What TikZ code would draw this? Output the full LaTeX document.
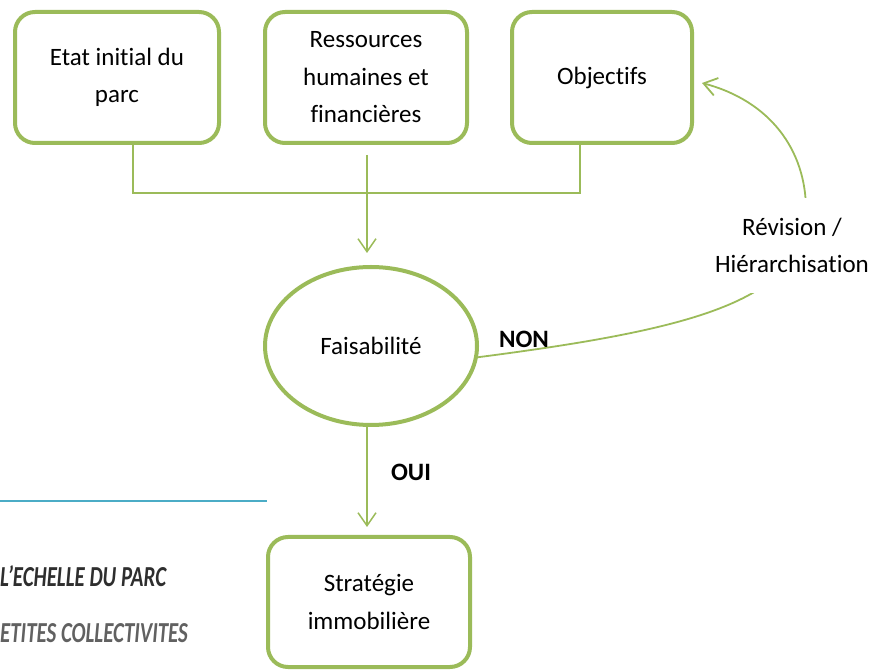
\documentclass[tikz,border=0pt]{standalone}
\usepackage{fontspec}
\setmainfont{Carlito}[Ligatures=NoCommon]
\newfontfamily\bandeau[FakeStretch=0.72,Ligatures=NoCommon]{Carlito}
\usetikzlibrary{shapes.geometric,arrows.meta}
\definecolor{vert}{HTML}{9BBB59}
\definecolor{bleu}{HTML}{4BACC6}
\begin{document}
\begin{tikzpicture}[x=1pt,y=1pt,>={Straight Barb[length=13pt,width=18pt]}]
        \tikzstyle{etape}=[rectangle,rounded corners=20pt,draw=vert,line width=4pt,align=center,inner sep=0pt,minimum height=131pt,font=\fontsize{25}{37.5}\selectfont]
        \tikzstyle{decision}=[ellipse,draw=vert,line width=4pt,minimum width=212pt,minimum height=158pt,inner sep=0pt,font=\fontsize{25}{37.5}\selectfont]
        \tikzstyle{lien}=[draw=vert,line width=1.5pt]
        \tikzstyle{texte}=[align=center,font=\fontsize{25}{37.5}\selectfont]
        \tikzstyle{reponse}=[font=\fontsize{25}{30}\selectfont\bfseries]
        \tikzstyle{bandeau}=[anchor=west,inner sep=0pt,font=\fontsize{29}{32}\bandeau\bfseries\itshape]
        \useasboundingbox (0,0) rectangle (877,669);
       \begin{scope}
         \node [etape,minimum width=204pt] (etat) at (117,591.5) {Etat initial du\\parc};
         \node [etape,minimum width=202pt] (ressources) at (366,591.5) {Ressources\\humaines et\\financières};
         \node [etape,minimum width=180pt] (objectifs) at (602,591.5) {Objectifs};
         \node [decision] (faisab) at (371,323) {Faisabilité};
         \node [etape,minimum width=202pt,minimum height=130pt] (strategie) at (369,67) {Stratégie\\immobilière};
         \coordinate (jonc) at (367,476);

         \path[lien] ([xshift=16pt]etat.south) |- (jonc) -| ([xshift=-22pt]objectifs.south);
         \path[lien,->,shorten <=10pt,shorten >=12pt] (ressources.south -| jonc) -- (faisab.north -| jonc);
         \path[lien,->,shorten >=8pt] (faisab.south -| jonc) -- (strategie.north -| jonc)
              node[reponse,pos=0.42,right=20pt] (oui) {OUI};
         \path[lien,->,line width=1.8pt] (faisab.-6.5) .. controls (696,340) and (806,369) .. (806,459)
              .. controls (806,519) and (770,568) .. ([shift={(8pt,-5.5pt)}]objectifs.east);

         \node [texte,fill=white,inner sep=2pt,minimum height=95pt] (revision) at (792,423.5) {Révision /\\Hiérarchisation};
         \node [reponse] (non) at (524,330) {NON};
        \end{scope}

        % bandeau de page
        \draw[bleu,line width=1.2pt] (0,168) -- (267,168);
        \node [bandeau,text=black!82] (echelle) at (0,93) {L’ECHELLE DU PARC};
        \node [bandeau,text=black!62] (collect) at (0,36) {ETITES COLLECTIVITES};
      \end{tikzpicture}
\end{document}
